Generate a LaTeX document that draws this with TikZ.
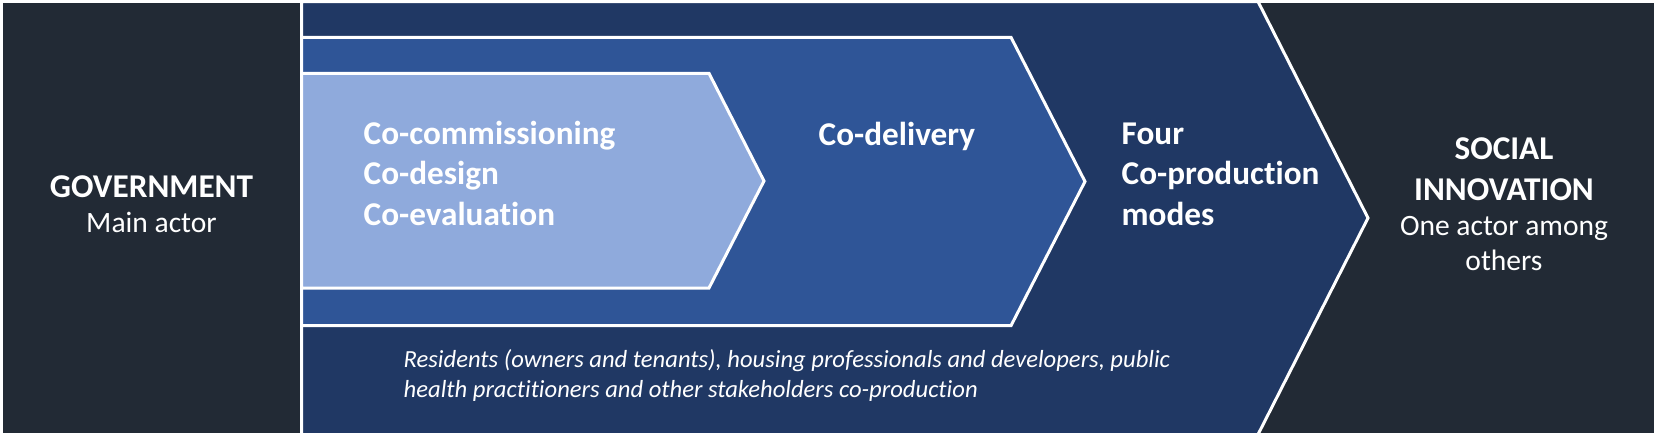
\documentclass[tikz,border=0pt]{standalone}
\usepackage{fontspec}
\setmainfont{Carlito}[Ligatures=NoCommon]
\usepackage{xcolor}
\definecolor{slate}{HTML}{222A35}
\definecolor{navy}{HTML}{203864}
\definecolor{midblue}{HTML}{2F5597}
\definecolor{lightblue}{HTML}{8FAADC}

\begin{document}
\begin{tikzpicture}[
		x=0.01cm, y=-0.01cm,
		line join=miter,
		chev/.style={draw=white, line width=0.03cm},
		head/.style={text=white, inner sep=0pt, font=\bfseries\fontsize{9.45}{11.4}\selectfont},
		sub/.style={text=white, inner sep=0pt, font=\fontsize{8.4}{9.7}\selectfont},
		note/.style={text=white, inner sep=0pt, font=\itshape\fontsize{7.0}{8.5}\selectfont}]

	% ---- sfondo e pannelli laterali ----
	\fill[white] (0,0) rectangle (1657,436);
	\useasboundingbox (0,0) rectangle (1657,436);
	\fill[slate] (3,3) rectangle (300,433);
	\fill[slate] (1250,3) rectangle (1654,433);

	% ---- frecce annidate ----
	\draw[chev, fill=navy]      (301.5,1.5) -- (1258,1.5) -- (1368,218) -- (1258,434.5) -- (301.5,434.5) -- cycle;
	\draw[chev, fill=midblue]   (301.5,37.3) -- (1011,37.3) -- (1085,181.5) -- (1011,325.7) -- (301.5,325.7) -- cycle;
	\draw[chev, fill=lightblue] (301.5,73.3) -- (709,73.3) -- (764,181) -- (709,288) -- (301.5,288) -- cycle;

	% ---- testi (ancora base = ultima riga) ----
	\node[head, anchor=base] (gov) at (151.5,197) {GOVERNMENT};
	\node[sub, anchor=base] (govsub) at (151.5,232) {Main actor};

	\node[head, anchor=base west, align=left] (modes) at (363,225) {Co-commissioning\\Co-design\\Co-evaluation};
	\node[head, anchor=base west] (delivery) at (818,145) {Co-delivery};
	\node[head, anchor=base west, align=left] (four) at (1121,225) {Four\\Co-production\\modes};

	\node[head, anchor=base, align=center] (social) at (1504,200) {SOCIAL\\INNOVATION};
	\node[sub, anchor=base, align=center] (socsub) at (1504,270) {One actor among\\others};

	\node[note, anchor=base west, align=left] (actors) at (403,397)
	{Residents (owners and tenants), housing professionals and developers, public\\health practitioners and other stakeholders co-production};

\end{tikzpicture}
\end{document}
